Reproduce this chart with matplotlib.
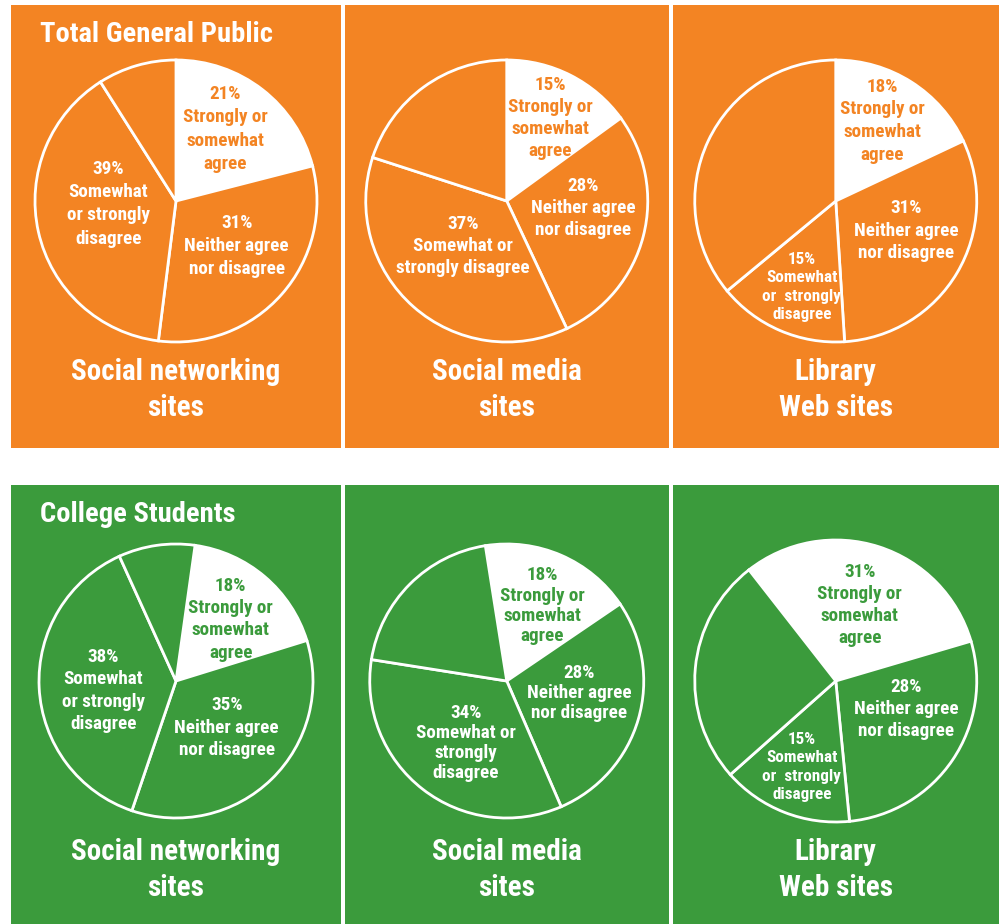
import matplotlib
matplotlib.use("Agg")
import matplotlib.pyplot as plt
from matplotlib import font_manager
from matplotlib.patches import Rectangle

# ---------------- data ----------------
groups = ["Total General Public", "College Students"]
sites = ["Social networking\nsites", "Social media\nsites", "Library\nWeb sites"]
agree_gp = [21, 15, 18]
neither_gp = [31, 28, 31]
disagree_gp = [39, 37, 15]
agree_cs = [18, 18, 31]
neither_cs = [35, 28, 28]
disagree_cs = [38, 34, 15]

# label wording (wrapping differs per panel)
agree_txt = "Strongly or\nsomewhat\nagree"
neither_txt = "Neither agree\nnor disagree"
disagree_txt = [
    ["Somewhat\nor strongly\ndisagree", "Somewhat or\nstrongly disagree", "Somewhat\nor  strongly\ndisagree"],
    ["Somewhat\nor strongly\ndisagree", "Somewhat or\nstrongly\ndisagree", "Somewhat\nor  strongly\ndisagree"],
]

# ---------------- style / layout ----------------
ORANGE = "#F38423"
GREEN = "#3B9B3C"
row_colors = [ORANGE, GREEN]
W, H = 1002, 924
col_x = [(11, 341), (344.5, 669), (672.5, 999)]
row_y = [(5, 448), (485, 924)]
pie_cy = [201, 681]
radius = [[141, 141, 141], [137, 137, 141]]
start_angles = [[90, 90, 90], [82, 99, 128]]
# label positions in radius units (agree, neither, disagree)
label_pos = [
    [[(0.35, 0.51), (0.43, -0.32), (-0.48, -0.02)],
     [(0.31, 0.59), (0.54, -0.05), (-0.31, -0.32)],
     [(0.33, 0.57), (0.50, -0.21), (-0.24, -0.61)]],
    [[(0.40, 0.45), (0.37, -0.34), (-0.53, -0.07)],
     [(0.26, 0.55), (0.53, -0.09), (-0.30, -0.45)],
     [(0.17, 0.54), (0.50, -0.20), (-0.24, -0.61)]],
]
line_sp = [[1.38, 1.3, 1.33], [1.3, 1.15, 1.27]]
small_disagree = [[False, False, True], [False, False, True]]

# font choice: prefer a condensed family
avail = {f.name for f in font_manager.fontManager.ttflist}
family = "Roboto"
for cand in ["Roboto Condensed", "Liberation Sans Narrow", "Open Sans Condensed",
             "Fira Sans Condensed"]:
    if cand in avail:
        family = cand
        break
plt.rcParams["font.family"] = family
plt.rcParams["font.weight"] = "bold"

fig = plt.figure(figsize=(W / 100, H / 100), dpi=100)
fig.patch.set_facecolor("white")


def fx(x):
    return x / W


def fy(y):
    return 1 - y / H


data = [(agree_gp, neither_gp, disagree_gp), (agree_cs, neither_cs, disagree_cs)]

for r in range(2):
    ag, ne, di = data[r]
    color = row_colors[r]
    y0, y1 = row_y[r]
    for c in range(3):
        x0, x1 = col_x[c]
        fig.patches.append(Rectangle((fx(x0), fy(y1)), fx(x1) - fx(x0), fy(y0) - fy(y1),
                                     transform=fig.transFigure, facecolor=color,
                                     edgecolor="none", zorder=-5))
        rad = radius[r][c]
        cx = (x0 + x1) / 2
        cy = pie_cy[r]
        ax = fig.add_axes([fx(cx - rad - 3), fy(cy + rad + 3), (2 * rad + 6) / W, (2 * rad + 6) / H])
        ax.set_zorder(2)
        ax.set_facecolor("none")
        vals = [ag[c], ne[c], di[c], 100 - ag[c] - ne[c] - di[c]]
        ax.pie(vals, colors=["white", color, color, color], startangle=start_angles[r][c],
               counterclock=False, radius=1.0,
               wedgeprops=dict(edgecolor="white", linewidth=2.0))
        lim = 1 + 3 / rad
        ax.set_xlim(-lim, lim)
        ax.set_ylim(-lim, lim)
        ax.set_aspect("equal")
        ax.axis("off")
        texts = [f"{ag[c]}%\n" + agree_txt, f"{ne[c]}%\n" + neither_txt,
                 f"{di[c]}%\n" + disagree_txt[r][c]]
        tcolors = [color, "white", "white"]
        for k in range(3):
            px, py = label_pos[r][c][k]
            small = (k == 2 and small_disagree[r][c])
            fs = 12.3 if small else 13.8
            ls = 1.3 if small else line_sp[r][c]
            ax.text(px, py, texts[k], ha="center", va="center", color=tcolors[k],
                    fontsize=fs, fontweight="bold", linespacing=ls)
        # site label under the pie
        fig.text(fx(cx), fy(390 + (y0 - 5)), sites[c], ha="center", va="center",
                 color="white", fontsize=21, fontweight="bold", linespacing=1.33)
    fig.text(fx(40), fy(34 + (y0 - 5)), groups[r], ha="left",
             va="center", color="white", fontsize=20.5, fontweight="bold")

fig.savefig("out.png", dpi=100, facecolor="white")
